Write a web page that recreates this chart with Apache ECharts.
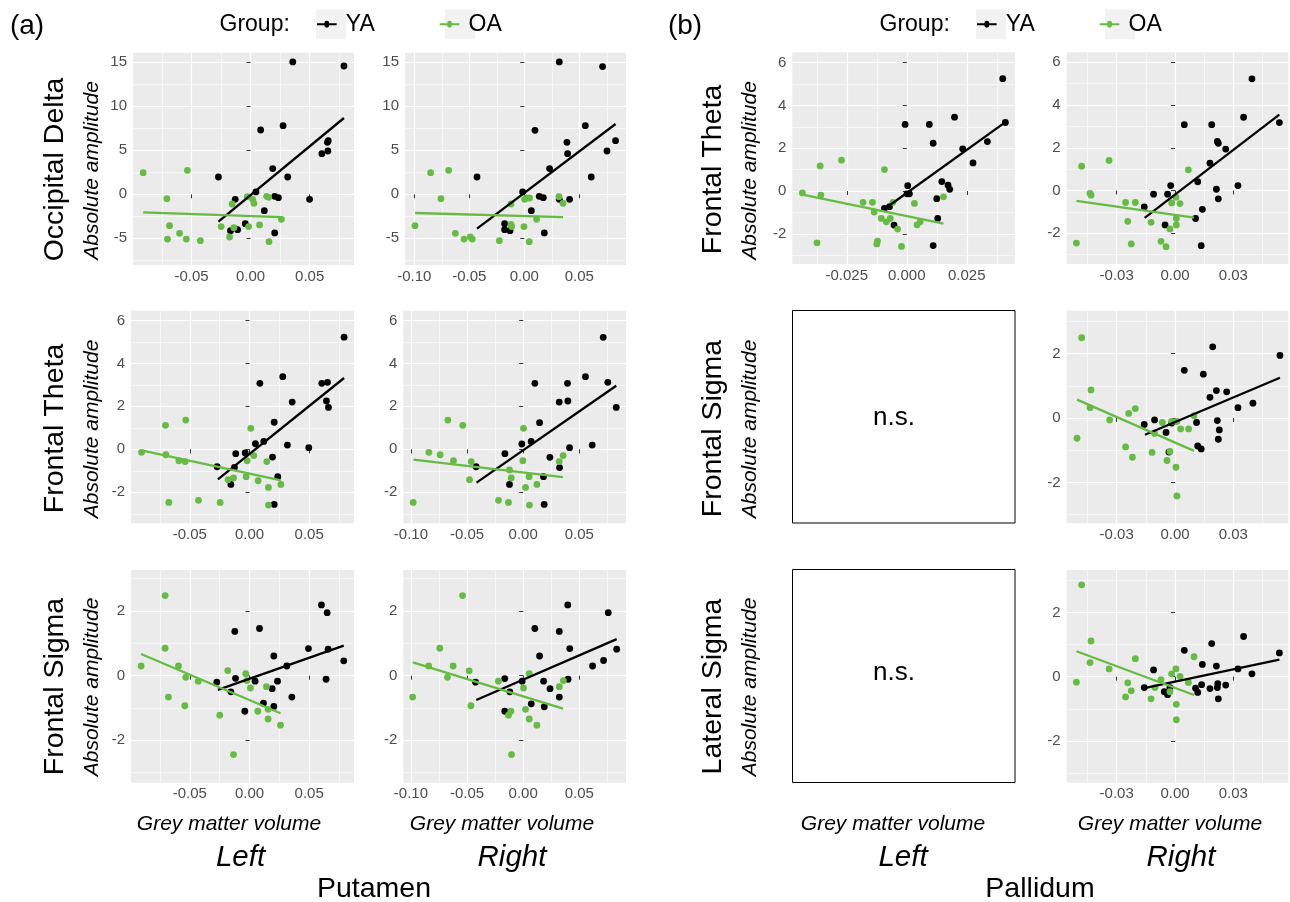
<!DOCTYPE html>
<html>
<head>
<meta charset="utf-8">
<script src="https://cdn.jsdelivr.net/npm/echarts@6/dist/echarts.min.js"></script>
<style>
html,body{margin:0;padding:0;background:#fff}
#main{width:1290px;height:902px}
</style>
</head>
<body>
<div id="main"></div>
<script>
// tick values
var xTicksPutL = [-0.05, 0, 0.05];
var xTicksPutR = [-0.10, -0.05, 0, 0.05];
var xMinorPut = [-0.075, -0.025, 0.025, 0.075];
var xTicksPalL = [-0.025, 0, 0.025];
var xMinorPalL = [-0.0375, -0.0125, 0.0125, 0.0375];
var xTicksPalR = [-0.03, 0, 0.03];
var xMinorPalR = [-0.045, -0.015, 0.015, 0.045];
var yTicksOcc = [-5, 0, 5, 10, 15];
var yMinorOcc = [-7.5, -2.5, 2.5, 7.5, 12.5];
var yTicksTheta = [-2, 0, 2, 4, 6];
var yMinorTheta = [-3, -1, 1, 3, 5];
var yTicksSigma = [-2, 0, 2];
var yMinorSigma = [-3, -1, 1, 3];

// Occipital Delta ~ left putamen
var occ_putL_YA = [[-0.0272,1.97],[-0.0170,-4.13],[-0.0130,-0.57],[-0.0110,-4.02],[-0.0045,-3.33],[0.0045,0.27],[0.0085,7.31],[0.0116,-1.86],[0.0187,2.92],[0.0204,-4.39],[0.0204,-0.23],[0.0235,-0.38],[0.0275,7.80],[0.0314,1.97],[0.0357,15.04],[0.0499,-0.57],[0.0603,4.62],[0.0650,5.91],[0.0657,6.10],[0.0654,4.92],[0.0790,14.58]];
var occ_putL_OA = [[-0.0909,2.46],[-0.0708,-0.49],[-0.0686,-3.56],[-0.0703,-5.08],[-0.0601,-4.43],[-0.0535,2.73],[-0.0544,-5.08],[-0.0425,-5.27],[-0.0249,-3.67],[-0.0178,-4.85],[-0.0156,-1.10],[-0.0142,-3.79],[-0.0028,-0.27],[-0.0017,-3.67],[0.0017,-0.57],[0.0028,-1.02],[0.0076,-3.48],[0.0136,-0.23],[0.0153,-0.34],[0.0156,-5.38],[0.0261,-2.84]];
var occ_putL_fitYA = [[-0.0272,-3.11],[0.0790,8.67]];
var occ_putL_fitOA = [[-0.0909,-2.05],[0.0261,-2.58]];

// Occipital Delta ~ right putamen
var occ_putR_YA = [[-0.0430,1.97],[-0.0179,-3.33],[-0.0179,-4.02],[-0.0130,-4.13],[-0.0015,0.27],[0.0064,-1.86],[0.0097,7.27],[0.0136,-0.23],[0.0173,-0.38],[0.0182,-4.39],[0.0230,2.92],[0.0318,15.04],[0.0318,-0.57],[0.0388,5.91],[0.0394,4.62],[0.0412,-0.57],[0.0555,7.80],[0.0609,1.97],[0.0712,14.51],[0.0752,4.92],[0.0830,6.10]];
var occ_putR_OA = [[-0.0994,-3.56],[-0.0852,2.46],[-0.0758,-0.49],[-0.0688,2.73],[-0.0627,-4.43],[-0.0548,-5.08],[-0.0491,-4.85],[-0.0473,-5.08],[-0.0227,-5.27],[-0.0121,-1.10],[-0.0121,-3.41],[-0.0115,-3.67],[-0.0003,-3.67],[0.0003,-0.57],[0.0021,-0.42],[0.0048,-0.42],[0.0045,-5.38],[0.0112,-2.84],[0.0315,-0.27],[0.0352,-1.02]];
var occ_putR_fitYA = [[-0.0430,-3.90],[0.0830,7.99]];
var occ_putR_fitOA = [[-0.0994,-2.12],[0.0352,-2.58]];

// Frontal Theta ~ left putamen
var fth_putL_YA = [[-0.0271,-0.81],[-0.0156,-1.63],[-0.0126,-0.84],[-0.0115,-0.20],[-0.0036,-0.17],[0.0050,0.26],[0.0087,3.07],[0.0120,0.37],[0.0193,-0.36],[0.0207,1.26],[0.0207,-2.56],[0.0237,-1.27],[0.0279,3.38],[0.0318,0.20],[0.0358,2.20],[0.0497,0.08],[0.0606,3.07],[0.0654,3.12],[0.0645,2.25],[0.0662,1.95],[0.0793,5.22]];
var fth_putL_OA = [[-0.0905,-0.14],[-0.0704,1.12],[-0.0701,-0.25],[-0.0676,-2.47],[-0.0592,-0.53],[-0.0534,1.36],[-0.0539,-0.57],[-0.0427,-2.37],[-0.0246,-2.47],[-0.0179,-1.41],[-0.0134,-1.33],[-0.0028,-1.27],[-0.0020,-0.53],[0.0011,0.98],[0.0036,-0.29],[0.0073,-1.46],[0.0145,-0.57],[0.0159,-1.77],[0.0159,-2.59],[0.0263,-1.63]];
var fth_putL_fitYA = [[-0.0265,-1.40],[0.0793,3.32]];
var fth_putL_fitOA = [[-0.0905,-0.05],[0.0263,-1.44]];

// Frontal Theta ~ right putamen
var fth_putR_YA = [[-0.0419,-0.81],[-0.0163,-0.20],[-0.0122,-1.63],[-0.0012,0.25],[0.0071,0.37],[0.0104,3.07],[0.0146,1.24],[0.0181,-1.27],[0.0187,-2.56],[0.0238,-0.37],[0.0321,2.20],[0.0324,-0.85],[0.0395,3.07],[0.0398,2.25],[0.0413,0.08],[0.0555,3.38],[0.0615,0.20],[0.0713,5.21],[0.0754,3.12],[0.0829,1.95]];
var fth_putR_OA = [[-0.0980,-2.47],[-0.0840,-0.14],[-0.0740,-0.25],[-0.0671,1.36],[-0.0621,-0.53],[-0.0538,1.12],[-0.0478,-1.41],[-0.0463,-0.57],[-0.0220,-2.37],[-0.0131,-2.47],[-0.0122,-0.96],[-0.0107,-1.33],[-0.0003,-0.53],[0.0003,0.98],[0.0021,-1.77],[0.0053,-1.27],[0.0056,-2.59],[0.0122,-1.63],[0.0321,-0.57],[0.0356,-0.29]];
var fth_putR_fitYA = [[-0.0416,-1.55],[0.0829,2.96]];
var fth_putR_fitOA = [[-0.0977,-0.48],[0.0353,-1.29]];

// Frontal Sigma ~ left putamen
var fsg_putL_YA = [[-0.0274,-0.20],[-0.0156,-0.50],[-0.0123,1.37],[-0.0117,-0.08],[-0.0039,-1.10],[0.0047,-0.17],[0.0084,1.46],[0.0117,-0.85],[0.0190,-0.40],[0.0204,0.61],[0.0204,-0.95],[0.0235,-0.17],[0.0313,0.30],[0.0355,-0.66],[0.0494,0.84],[0.0603,2.19],[0.0651,1.95],[0.0642,-0.11],[0.0659,0.82],[0.0790,0.46]];
var fsg_putL_OA = [[-0.0908,0.30],[-0.0707,2.48],[-0.0707,0.85],[-0.0679,-0.66],[-0.0595,0.30],[-0.0534,-0.05],[-0.0542,-0.93],[-0.0430,-0.17],[-0.0249,-1.22],[-0.0182,0.16],[-0.0134,-2.44],[-0.0031,0.06],[-0.0022,-0.15],[0.0008,-0.38],[0.0070,-1.10],[0.0142,-0.34],[0.0156,-1.04],[0.0156,-1.34],[0.0260,-1.53]];
var fsg_putL_fitYA = [[-0.0265,-0.44],[0.0790,0.93]];
var fsg_putL_fitOA = [[-0.0908,0.67],[0.0260,-1.16]];

// Frontal Sigma ~ right putamen
var fsg_putR_YA = [[-0.0424,-0.20],[-0.0164,-0.09],[-0.0164,-1.10],[-0.0119,-0.50],[-0.0009,-0.17],[0.0072,-0.87],[0.0104,1.46],[0.0146,0.61],[0.0182,-0.17],[0.0188,-0.96],[0.0239,-0.40],[0.0322,1.37],[0.0322,-0.66],[0.0397,2.19],[0.0400,-0.11],[0.0415,0.84],[0.0618,0.30],[0.0716,0.47],[0.0758,1.95],[0.0833,0.82]];
var fsg_putR_OA = [[-0.0985,-0.66],[-0.0842,0.30],[-0.0743,0.85],[-0.0675,-0.05],[-0.0624,0.30],[-0.0540,2.48],[-0.0481,0.15],[-0.0466,-0.93],[-0.0221,-0.17],[-0.0131,-1.22],[-0.0110,-1.10],[-0.0104,-2.44],[0.0003,-0.38],[0.0021,-1.04],[0.0054,0.06],[0.0054,-1.34],[0.0122,-1.53],[0.0322,-0.34],[0.0358,-0.15]];
var fsg_putR_fitYA = [[-0.0418,-0.75],[0.0833,1.13]];
var fsg_putR_fitOA = [[-0.0982,0.41],[0.0355,-1.02]];

// Frontal Theta ~ left pallidum
var fth_palL_YA = [[-0.0093,-0.81],[-0.0072,-0.73],[-0.0053,-1.59],[-0.0007,3.11],[0.0004,0.25],[0.0001,-0.13],[0.0011,-0.13],[0.0094,3.11],[0.0110,2.23],[0.0110,-2.55],[0.0125,-0.36],[0.0129,-1.28],[0.0146,0.44],[0.0172,0.27],[0.0179,0.08],[0.0199,3.45],[0.0233,1.97],[0.0276,1.31],[0.0336,2.31],[0.0400,5.25],[0.0411,3.20]];
var fth_palL_OA = [[-0.0435,-0.09],[-0.0374,-2.42],[-0.0361,1.17],[-0.0358,-0.19],[-0.0272,1.44],[-0.0182,-0.53],[-0.0143,-0.53],[-0.0136,-0.98],[-0.0122,-2.34],[-0.0125,-2.47],[-0.0106,-1.28],[-0.0093,1.00],[-0.0085,-1.44],[-0.0069,-1.28],[-0.0058,-0.53],[-0.0038,-1.78],[-0.0022,-2.59],[0.0032,-0.58],[0.0043,-1.58],[0.0056,-1.44],[0.0153,-0.27]];
var fth_palL_fitYA = [[-0.0093,-0.84],[0.0411,3.22]];
var fth_palL_fitOA = [[-0.0435,-0.17],[0.0153,-1.52]];

// Frontal Theta ~ right pallidum
var fth_palR_YA = [[-0.0158,-0.77],[-0.0110,-0.17],[-0.0051,-1.61],[-0.0038,-0.17],[-0.0022,0.23],[0.0048,3.08],[0.0106,-1.31],[0.0117,0.41],[0.0135,-2.58],[0.0141,-0.88],[0.0180,1.28],[0.0189,3.08],[0.0213,0.06],[0.0218,2.30],[0.0223,2.21],[0.0223,-0.39],[0.0261,1.94],[0.0324,0.23],[0.0353,3.43],[0.0396,5.23],[0.0537,3.18]];
var fth_palR_OA = [[-0.0507,-2.46],[-0.0480,1.14],[-0.0437,-0.13],[-0.0432,-0.22],[-0.0339,1.41],[-0.0254,-0.56],[-0.0243,-1.44],[-0.0225,-2.50],[-0.0204,-0.56],[-0.0123,-1.49],[-0.0072,-2.38],[-0.0046,-2.63],[-0.0026,-1.80],[-0.0017,-0.58],[0.0005,-0.31],[0.0007,-1.31],[0.0007,-1.61],[0.0026,-0.61],[0.0069,0.97]];
var fth_palR_fitYA = [[-0.0156,-1.28],[0.0537,3.55]];
var fth_palR_fitOA = [[-0.0507,-0.49],[0.0098,-1.27]];

// Frontal Sigma ~ right pallidum
var fsg_palR_YA = [[-0.0158,-0.20],[-0.0105,-0.06],[-0.0046,-0.45],[-0.0031,-1.06],[-0.0017,-0.16],[0.0048,1.48],[0.0111,-0.14],[0.0117,-0.87],[0.0135,-0.96],[0.0146,1.36],[0.0180,0.64],[0.0194,2.21],[0.0213,0.85],[0.0218,-0.08],[0.0228,-0.37],[0.0223,-0.66],[0.0266,0.81],[0.0324,0.32],[0.0401,0.46],[0.0540,1.94]];
var fsg_palR_OA = [[-0.0504,-0.63],[-0.0480,2.49],[-0.0437,0.32],[-0.0432,0.87],[-0.0336,-0.06],[-0.0254,-0.90],[-0.0238,0.14],[-0.0219,-1.22],[-0.0204,0.29],[-0.0118,-1.07],[-0.0105,-0.48],[-0.0065,-0.14],[-0.0041,-1.32],[-0.0026,-1.04],[-0.0017,-0.11],[0.0005,-1.53],[0.0010,-2.42],[0.0010,-0.11],[0.0029,-0.34],[0.0070,-0.34],[0.0098,0.07]];
var fsg_palR_fitYA = [[-0.0154,-0.52],[0.0540,1.25]];
var fsg_palR_fitOA = [[-0.0504,0.57],[0.0098,-1.02]];

// Lateral Sigma ~ right pallidum
var lsg_palR_YA = [[-0.0158,-0.34],[-0.0110,0.21],[-0.0055,-0.47],[-0.0038,-0.56],[-0.0026,-0.34],[0.0048,0.82],[0.0106,-0.36],[0.0117,-0.49],[0.0141,0.38],[0.0137,-0.25],[0.0180,-0.37],[0.0189,1.03],[0.0213,0.33],[0.0220,-0.22],[0.0218,-0.34],[0.0223,-0.69],[0.0261,-0.26],[0.0324,0.24],[0.0353,1.25],[0.0396,0.09],[0.0537,0.74]];
var lsg_palR_OA = [[-0.0507,-0.17],[-0.0480,2.86],[-0.0437,0.44],[-0.0432,1.11],[-0.0339,0.24],[-0.0254,-0.63],[-0.0243,-0.19],[-0.0225,-0.44],[-0.0204,0.56],[-0.0123,-0.69],[-0.0103,-0.34],[-0.0072,-0.09],[-0.0026,-0.47],[-0.0017,0.09],[0.0005,0.24],[0.0007,-0.86],[0.0007,-1.34],[0.0026,0.01],[0.0069,-0.18],[0.0098,0.62]];
var lsg_palR_fitYA = [[-0.0158,-0.36],[0.0537,0.53]];
var lsg_palR_fitOA = [[-0.0507,0.79],[0.0098,-0.57]];

var FONT = '"Liberation Sans", Arial, Helvetica, sans-serif';
var BLACK = '#000000';
var GREEN = '#66BB44';

// panel layout: box = [left, top, width, height]
var panels = [
  {box:[133, 52.7, 221, 212.3], xr:[-0.0995, 0.0875], yr:[-8.03, 16.09], xt:xTicksPutL, xm:xMinorPut, yt:yTicksOcc, ym:yMinorOcc, dec:2, ya:occ_putL_YA, oa:occ_putL_OA, fya:occ_putL_fitYA, foa:occ_putL_fitOA},
  {box:[405, 52.7, 221, 212.3], xr:[-0.1085, 0.0925], yr:[-8.03, 16.09], xt:xTicksPutR, xm:xMinorPut, yt:yTicksOcc, ym:yMinorOcc, dec:2, ya:occ_putR_YA, oa:occ_putR_OA, fya:occ_putR_fitYA, foa:occ_putR_fitOA},
  {box:[131, 310.7, 223, 212.6], xr:[-0.0993, 0.0876], yr:[-3.44, 6.45], xt:xTicksPutL, xm:xMinorPut, yt:yTicksTheta, ym:yMinorTheta, dec:2, ya:fth_putL_YA, oa:fth_putL_OA, fya:fth_putL_fitYA, foa:fth_putL_fitOA},
  {box:[403.3, 310.7, 222.7, 212.6], xr:[-0.1068, 0.0916], yr:[-3.44, 6.45], xt:xTicksPutR, xm:xMinorPut, yt:yTicksTheta, ym:yMinorTheta, dec:2, ya:fth_putR_YA, oa:fth_putR_OA, fya:fth_putR_fitYA, foa:fth_putR_fitOA},
  {box:[131, 570, 223, 212.7], xr:[-0.0993, 0.0876], yr:[-3.31, 3.27], xt:xTicksPutL, xm:xMinorPut, yt:yTicksSigma, ym:yMinorSigma, dec:2, ya:fsg_putL_YA, oa:fsg_putL_OA, fya:fsg_putL_fitYA, foa:fsg_putL_fitOA},
  {box:[403.3, 570, 222.7, 212.7], xr:[-0.1068, 0.0916], yr:[-3.31, 3.27], xt:xTicksPutR, xm:xMinorPut, yt:yTicksSigma, ym:yMinorSigma, dec:2, ya:fsg_putR_YA, oa:fsg_putR_OA, fya:fsg_putR_fitYA, foa:fsg_putR_fitOA},
  {box:[792.3, 52.3, 222.7, 211.7], xr:[-0.0477, 0.0451], yr:[-3.41, 6.48], xt:xTicksPalL, xm:xMinorPalL, yt:yTicksTheta, ym:yMinorTheta, dec:3, ya:fth_palL_YA, oa:fth_palL_OA, fya:fth_palL_fitYA, foa:fth_palL_fitOA},
  {box:[1066.7, 52.3, 221.6, 211.7], xr:[-0.0557, 0.0583], yr:[-3.44, 6.47], xt:xTicksPalR, xm:xMinorPalR, yt:yTicksTheta, ym:yMinorTheta, dec:2, ya:fth_palR_YA, oa:fth_palR_OA, fya:fth_palR_fitYA, foa:fth_palR_fitOA},
  {box:[1066.7, 310.7, 221.6, 212.6], xr:[-0.0557, 0.0583], yr:[-3.27, 3.33], xt:xTicksPalR, xm:xMinorPalR, yt:yTicksSigma, ym:yMinorSigma, dec:2, ya:fsg_palR_YA, oa:fsg_palR_OA, fya:fsg_palR_fitYA, foa:fsg_palR_fitOA},
  {box:[1066.7, 570, 221.6, 212.7], xr:[-0.0557, 0.0583], yr:[-3.30, 3.32], xt:xTicksPalR, xm:xMinorPalR, yt:yTicksSigma, ym:yMinorSigma, dec:2, ya:lsg_palR_YA, oa:lsg_palR_OA, fya:lsg_palR_fitYA, foa:lsg_palR_fitOA}
];

function majorAxis(dim, gi, range, ticks, dec) {
  return {
    type: 'value', gridIndex: gi, min: range[0], max: range[1],
    position: dim === 'x' ? 'bottom' : 'left',
    axisLine: {show: false},
    axisTick: {show: true, length: 4, customValues: ticks, lineStyle: {color: '#333333', width: 1}},
    axisLabel: {
      show: true, customValues: ticks, margin: dim === 'x' ? 4 : 6,
      fontSize: 15, color: '#4D4D4D', fontFamily: FONT,
      formatter: function (v) { return Number(v).toFixed(dec); }
    },
    splitLine: {show: true, lineStyle: {color: '#FFFFFF', width: 1.2}},
    minorTick: {show: false},
    minorSplitLine: {show: false}
  };
}

// second axis per dimension, only used for the thin minor grid lines
function minorAxis(dim, gi, range, ticks) {
  return {
    type: 'value', gridIndex: gi, min: range[0], max: range[1],
    position: dim === 'x' ? 'top' : 'right',
    axisLine: {show: false},
    axisTick: {show: false, customValues: ticks},
    axisLabel: {show: false, customValues: ticks},
    splitLine: {show: true, lineStyle: {color: '#FFFFFF', width: 0.6}}
  };
}

var grids = [], xAxes = [], yAxes = [], series = [];
panels.forEach(function (p, i) {
  grids.push({
    left: p.box[0], top: p.box[1], width: p.box[2], height: p.box[3],
    show: true, backgroundColor: '#EBEBEB', borderWidth: 0,
    containLabel: false, outerBoundsMode: 'none'
  });
  xAxes.push(majorAxis('x', i, p.xr, p.xt, p.dec), minorAxis('x', i, p.xr, p.xm));
  yAxes.push(majorAxis('y', i, p.yr, p.yt, 0), minorAxis('y', i, p.yr, p.ym));
  var ax = 2 * i;
  series.push(
    {type: 'scatter', name: 'YA', xAxisIndex: ax, yAxisIndex: ax, data: p.ya, symbol: 'circle', symbolSize: 6.8, itemStyle: {color: BLACK, opacity: 1}, silent: true, z: 2},
    {type: 'scatter', name: 'OA', xAxisIndex: ax, yAxisIndex: ax, data: p.oa, symbol: 'circle', symbolSize: 6.8, itemStyle: {color: GREEN, opacity: 1}, silent: true, z: 2},
    {type: 'line', name: 'YA', xAxisIndex: ax, yAxisIndex: ax, data: p.fya, symbol: 'none', showSymbol: false, lineStyle: {color: BLACK, width: 2.3}, itemStyle: {color: BLACK}, silent: true, z: 3},
    {type: 'line', name: 'OA', xAxisIndex: ax, yAxisIndex: ax, data: p.foa, symbol: 'none', showSymbol: false, lineStyle: {color: GREEN, width: 2.3}, itemStyle: {color: GREEN}, silent: true, z: 3}
  );
});

// legend key: line with a dot in the middle (28 x 7)
var KEY_ICON = 'path://M0,2 L10.5,2 A3.5,3.5 0 0 1 17.5,2 L28,2 L28,5 L17.5,5 A3.5,3.5 0 0 1 10.5,5 L0,5 Z';

function makeLegend(left) {
  return {
    left: left, top: 9.2, padding: 0, orient: 'horizontal',
    itemWidth: 28, itemHeight: 7, itemGap: 65, selectedMode: false,
    itemStyle: {opacity: 1},
    data: [{name: 'YA', icon: KEY_ICON}, {name: 'OA', icon: KEY_ICON}],
    textStyle: {fontSize: 23, color: '#000', fontFamily: FONT, lineHeight: 30}
  };
}

function txt(str, x, y, size, italic, rotate) {
  return {
    type: 'text', x: x, y: y, rotation: rotate ? Math.PI / 2 : 0, silent: true,
    style: {
      text: str, fontSize: size, fontFamily: FONT, fontStyle: italic ? 'italic' : 'normal',
      fill: '#000', align: 'center', verticalAlign: 'middle',
      textAlign: 'center', textVerticalAlign: 'middle'
    }
  };
}

var graphics = [
  {type: 'rect', shape: {x: 316, y: 9.3, width: 30, height: 30}, style: {fill: '#F2F2F2'}, silent: true},
  {type: 'rect', shape: {x: 445, y: 9.3, width: 30, height: 30}, style: {fill: '#F2F2F2'}, silent: true},
  {type: 'rect', shape: {x: 976, y: 9.3, width: 30, height: 30}, style: {fill: '#F2F2F2'}, silent: true},
  {type: 'rect', shape: {x: 1105, y: 9.3, width: 30, height: 30}, style: {fill: '#F2F2F2'}, silent: true},
  {type: 'rect', shape: {x: 792.5, y: 310.5, width: 222.5, height: 212.5}, style: {fill: '#FFFFFF', stroke: '#000', lineWidth: 1}, silent: true},
  {type: 'rect', shape: {x: 792.5, y: 569.5, width: 222.5, height: 213}, style: {fill: '#FFFFFF', stroke: '#000', lineWidth: 1}, silent: true},
  txt('n.s.', 894, 418, 26, false, false),
  txt('n.s.', 894, 673, 26, false, false),
  txt('(a)', 27, 26, 28, false, false),
  txt('(b)', 685, 26, 28, false, false),
  {type: 'text', x: 219.5, y: 25, silent: true, style: {text: 'Group:', fontSize: 23, fontFamily: FONT, fill: '#000', align: 'left', verticalAlign: 'middle', textAlign: 'left', textVerticalAlign: 'middle'}},
  {type: 'text', x: 879.5, y: 25, silent: true, style: {text: 'Group:', fontSize: 23, fontFamily: FONT, fill: '#000', align: 'left', verticalAlign: 'middle', textAlign: 'left', textVerticalAlign: 'middle'}},
  txt('Occipital Delta', 55, 169.5, 28.5, false, true),
  txt('Frontal Theta', 55, 428.5, 28.5, false, true),
  txt('Frontal Sigma', 55, 686.5, 28.5, false, true),
  txt('Frontal Theta', 713, 169.5, 28.5, false, true),
  txt('Frontal Sigma', 713, 428.5, 28.5, false, true),
  txt('Lateral Sigma', 713, 686.5, 28.5, false, true),
  txt('Absolute amplitude', 92, 170.5, 21, true, true),
  txt('Absolute amplitude', 92, 429, 21, true, true),
  txt('Absolute amplitude', 92, 687, 21, true, true),
  txt('Absolute amplitude', 750, 170.5, 21, true, true),
  txt('Absolute amplitude', 750, 429, 21, true, true),
  txt('Absolute amplitude', 750, 687, 21, true, true),
  txt('Grey matter volume', 229, 824, 21, true, false),
  txt('Grey matter volume', 502, 824, 21, true, false),
  txt('Grey matter volume', 893, 824, 21, true, false),
  txt('Grey matter volume', 1170, 824, 21, true, false),
  txt('Left', 240.5, 857.5, 29.5, true, false),
  txt('Right', 512, 857.5, 29.5, true, false),
  txt('Left', 903, 857.5, 29.5, true, false),
  txt('Right', 1181, 857.5, 29.5, true, false),
  txt('Putamen', 374, 889, 28.5, false, false),
  txt('Pallidum', 1040, 889, 28.5, false, false)
];

var myChart = echarts.init(document.getElementById('main'), null, {renderer: 'canvas'});
myChart.setOption({
  animation: false,
  backgroundColor: '#FFFFFF',
  textStyle: {fontFamily: FONT},
  legend: [makeLegend(317), makeLegend(977)],
  grid: grids,
  xAxis: xAxes,
  yAxis: yAxes,
  series: series,
  graphic: {elements: graphics}
});
</script>
</body>
</html>
